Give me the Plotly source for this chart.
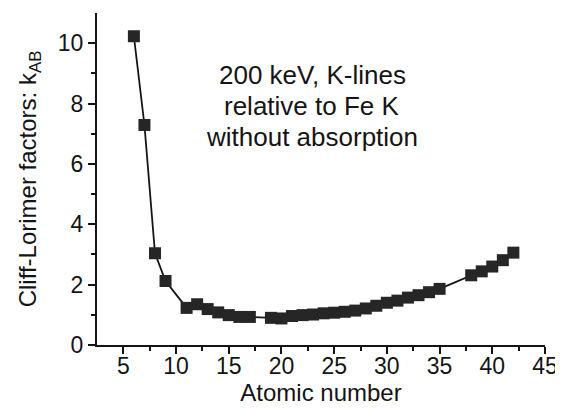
import plotly.graph_objects as go

atomic_number = [6, 7, 8, 9, 11, 12, 13, 14, 15, 16, 17,
                 19, 20, 21, 22, 23, 24, 25, 26, 27, 28, 29, 30, 31, 32, 33, 34, 35,
                 38, 39, 40, 41, 42]
k_ab = [10.23, 7.29, 3.04, 2.12, 1.23, 1.35, 1.19, 1.08, 0.99, 0.93, 0.93,
        0.90, 0.88, 0.96, 0.99, 1.01, 1.05, 1.07, 1.10, 1.14, 1.21, 1.30, 1.40, 1.47, 1.57, 1.65, 1.75, 1.86,
        2.31, 2.44, 2.60, 2.81, 3.06]

x_ticks = [5, 10, 15, 20, 25, 30, 35, 40, 45]
y_ticks = [0, 2, 4, 6, 8, 10]

note_lines = ["200 keV, K-lines", "relative to Fe K", "without absorption"]
note_y = [8.95, 7.92, 6.89]

ink = "#141414"
font = "Liberation Sans, Arial, sans-serif"

fig = go.Figure()
fig.add_trace(go.Scatter(
    x=atomic_number, y=k_ab, mode="lines+markers",
    line=dict(color=ink, width=1.8),
    marker=dict(symbol="square", size=12, color="#262626"),
    showlegend=False,
))

for txt, yy in zip(note_lines, note_y):
    fig.add_annotation(
        x=22.9, y=yy, xref="x", yref="y", text=txt,
        showarrow=False, align="center",
        font=dict(family=font, size=26, color=ink),
    )

# page body adds an 8px offset; size the figure to compensate
fig.update_layout(
    width=555, height=400,
    margin=dict(l=89, r=18, t=5, b=63),
    paper_bgcolor="white", plot_bgcolor="white",
    font=dict(family=font, color=ink),
    xaxis=dict(
        range=[2.5, 45], tickvals=x_ticks, ticks="outside", ticklen=7, tickwidth=1.5,
        tickcolor=ink, showline=True, linecolor=ink, linewidth=2, showgrid=False,
        zeroline=False, automargin=False, ticklabelstandoff=-8,
        tickfont=dict(size=23, family=font, color=ink),
        minor=dict(tickvals=[7.5, 12.5, 17.5, 22.5, 27.5, 32.5, 37.5, 42.5],
                   ticks="outside", ticklen=4, tickwidth=1.5, tickcolor=ink),
        title=dict(text="Atomic number", font=dict(size=24, family=font, color=ink), standoff=4),
    ),
    yaxis=dict(
        range=[0, 11], tickvals=y_ticks, ticks="outside", ticklen=7, tickwidth=1.5,
        tickcolor=ink, showline=True, linecolor=ink, linewidth=2, showgrid=False,
        zeroline=False, automargin=False, tickfont=dict(size=23, family=font, color=ink),
        minor=dict(tickvals=[1, 3, 5, 7, 9], ticks="outside", ticklen=4, tickwidth=1.5, tickcolor=ink),
        title=dict(text="Cliff-Lorimer factors: k<sub>AB</sub>",
                   font=dict(size=24, family=font, color=ink), standoff=14),
    ),
)

fig.write_html("out.html")
